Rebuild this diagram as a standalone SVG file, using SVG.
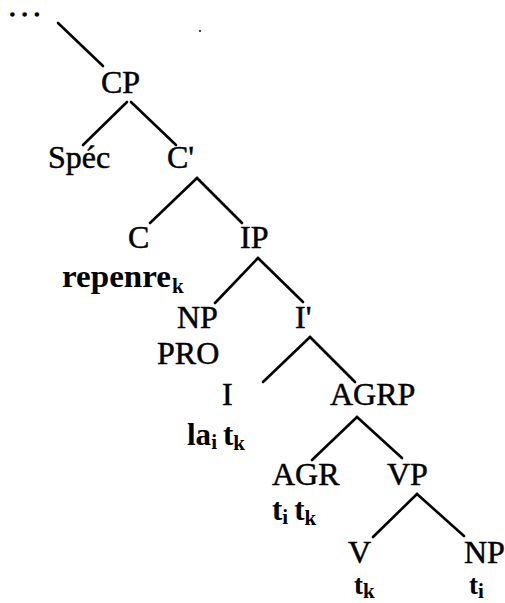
<svg xmlns="http://www.w3.org/2000/svg" width="505" height="603" viewBox="0 0 505 603">
<style>
.lbl{font-family:"Liberation Serif","Times New Roman",serif;font-size:32px;fill:#000;stroke:#000;stroke-width:0.5}
.lex{font-family:"Liberation Serif","Times New Roman",serif;font-size:31px;font-weight:bold;fill:#000}
.leaf{font-family:"Liberation Serif","Times New Roman",serif;font-size:27px;font-weight:bold;fill:#000}
.sub{font-size:21px}
.dots{font-family:"Liberation Serif","Times New Roman",serif;font-size:19px;font-weight:bold;fill:#000;stroke:#000;stroke-width:1.4}
.edge{stroke:#000;stroke-width:2.6;stroke-linecap:round;fill:none}
</style>
<rect width="505" height="603" fill="#fff"/>
<g id="edges">
<line class="edge" x1="58" y1="23" x2="103" y2="66"/>
<line class="edge" x1="127" y1="102" x2="83" y2="145"/>
<line class="edge" x1="131" y1="102" x2="176" y2="145"/>
<line class="edge" x1="197" y1="178" x2="150" y2="223"/>
<line class="edge" x1="197" y1="178" x2="242" y2="223"/>
<line class="edge" x1="258" y1="258" x2="215" y2="303"/>
<line class="edge" x1="258" y1="258" x2="303" y2="302"/>
<line class="edge" x1="310" y1="337" x2="263" y2="382"/>
<line class="edge" x1="310" y1="337" x2="355" y2="382"/>
<line class="edge" x1="357" y1="417" x2="312" y2="460"/>
<line class="edge" x1="357" y1="417" x2="402" y2="458"/>
<line class="edge" x1="417" y1="494" x2="373" y2="537"/>
<line class="edge" x1="417" y1="494" x2="464" y2="536"/>
</g>
<circle cx="200" cy="31" r="1" fill="#000"/>
<g id="top"><text class="dots" x="10" y="16" letter-spacing="7.5">...</text></g>
<g id="CP"><text class="lbl" x="101" y="93">CP</text></g>
<g id="Spec"><text class="lbl" x="48" y="168">Spéc</text></g>
<g id="Cbar"><text class="lbl" x="167" y="168">C'</text></g>
<g id="C"><text class="lbl" x="128" y="248">C</text><text class="lex" x="62" y="287" textLength="109" lengthAdjust="spacingAndGlyphs">repenre</text><text class="lex sub" x="172" y="293">k</text></g>
<g id="IP"><text class="lbl" x="240" y="248">IP</text></g>
<g id="NP1"><text class="lbl" x="177" y="328">NP</text><text class="lbl" x="157" y="364">PRO</text></g>
<g id="Ibar"><text class="lbl" x="295" y="328">I'</text></g>
<g id="I"><text class="lbl" x="222" y="405">I</text><text class="lex" x="187" y="445">la<tspan class="sub" dy="4">i</tspan><tspan dy="-4" dx="6">t</tspan><tspan class="sub" dy="5">k</tspan></text></g>
<g id="AGRP"><text class="lbl" x="330" y="405">AGRP</text></g>
<g id="AGR"><text class="lbl" x="272" y="485">AGR</text><text class="lex" x="272" y="520">t<tspan class="sub" dy="4">i</tspan><tspan dy="-4" dx="6">t</tspan><tspan class="sub" dy="5">k</tspan></text></g>
<g id="VP"><text class="lbl" x="387" y="485">VP</text></g>
<g id="V"><text class="lbl" x="348" y="563">V</text><text class="leaf" x="354" y="594">t<tspan class="sub" dy="4">k</tspan></text></g>
<g id="NP2"><text class="lbl" x="464" y="563">NP</text><text class="leaf" x="469" y="594">t<tspan class="sub" dy="4">i</tspan></text></g>
</svg>
